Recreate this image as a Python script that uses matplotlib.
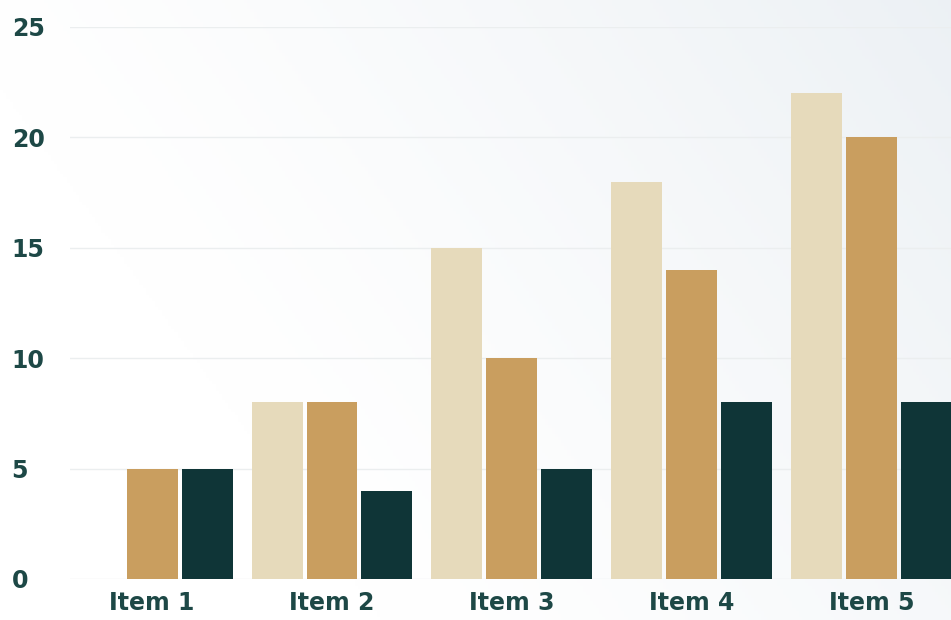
import numpy as np
import matplotlib
matplotlib.use("Agg")
import matplotlib.pyplot as plt

# data
items = ["Item 1", "Item 2", "Item 3", "Item 4", "Item 5"]
series_a = [0, 8, 15, 18, 22]     # light beige
series_b = [5, 8, 10, 14, 20]     # tan
series_c = [5, 4, 5, 8, 8]        # dark teal
y_ticks = [0, 5, 10, 15, 20, 25]

colors = ["#E6DABB", "#C99E5F", "#0F3537"]
text_color = "#1D4846"

plt.rcParams['font.family'] = ['DejaVu Sans']

fig = plt.figure(figsize=(9.51, 6.20), dpi=100)

# soft background gradient, white on the left to pale blue-grey top right
bg = fig.add_axes([0, 0, 1, 1], zorder=-10)
gx, gy = np.meshgrid(np.linspace(0, 1, 300), np.linspace(0, 1, 200))
g = np.clip(0.75 * gx + 0.35 * gy - 0.3, 0, 1) ** 1.3
white = np.array([1.0, 1.0, 1.0])
tint = np.array([0xE6, 0xEC, 0xF1]) / 255.0
img = white[None, None, :] * (1 - g[..., None]) + tint[None, None, :] * g[..., None]
bg.imshow(img, origin="lower", aspect="auto", extent=[0, 1, 0, 1])
bg.axis("off")

ax = fig.add_axes([70 / 951, 41 / 620, 881 / 951, 552 / 620])
ax.patch.set_alpha(0)

x = np.arange(len(items))
step = 55 / 180
width = 51 / 180
for k, (vals, col) in enumerate(zip([series_a, series_b, series_c], colors)):
    ax.bar(x + (k - 1) * step, vals, width=width, color=col, zorder=3)

ax.set_xlim(-0.456, 4.44)
ax.set_ylim(0, 25)
ax.set_yticks(y_ticks)
ax.set_xticks(x)
ax.set_xticklabels(items)

ax.grid(axis="y", color="#EBEEEF", linewidth=1.0, zorder=0)
for s in ax.spines.values():
    s.set_visible(False)

ax.tick_params(axis="both", length=0, labelsize=17, labelcolor=text_color)
ax.tick_params(axis="y", pad=42)
ax.tick_params(axis="x", pad=9)
for lab in ax.get_yticklabels():
    lab.set_horizontalalignment("left")
    lab.set_fontweight("bold")
for lab in ax.get_xticklabels():
    lab.set_fontweight("bold")

fig.savefig("out.png", dpi=100)
